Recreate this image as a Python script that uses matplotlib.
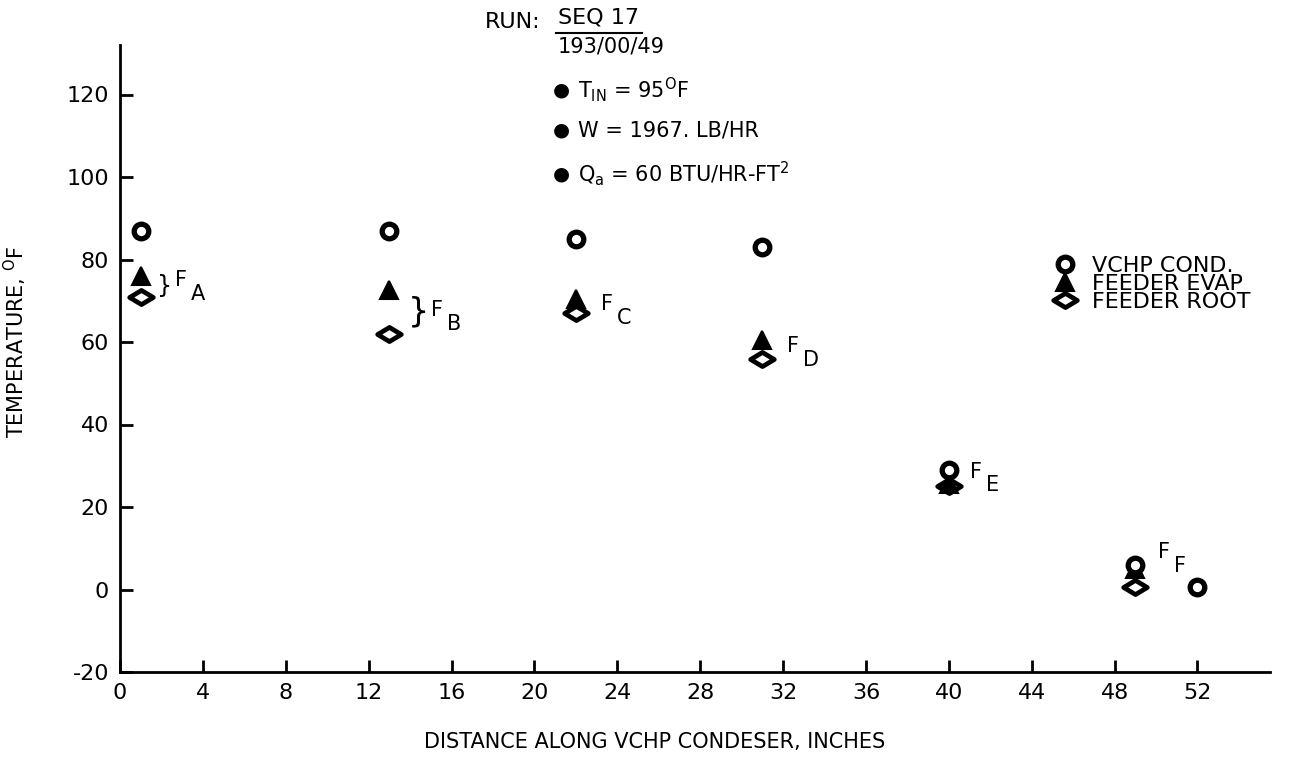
import matplotlib.pyplot as plt
from matplotlib.path import Path

plt.rcParams['font.family'] = ['DejaVu Sans']
plt.rcParams['axes.unicode_minus'] = False

# data (inches, deg F)
x_pos = [1, 13, 22, 31, 40, 49]
vchp_cond = [87, 87, 85, 83, 29, 6]
feeder_evap = [76, 72.5, 70.5, 60.5, 25.5, 5]
feeder_root = [71, 62, 67, 56, 25, 0.5]
extra_x = [52]
extra_cond = [0.5]
feeder_names = ['A', 'B', 'C', 'D', 'E', 'F']
x_ticks = list(range(0, 53, 4))
y_ticks = list(range(-20, 121, 20))

W, H = 1303, 769
fig = plt.figure(figsize=(W / 100, H / 100), dpi=100)
ax = fig.add_axes([120 / W, 1 - 672 / H, 1150 / W, 627 / H])

diamond = Path([(-1, 0), (0, 0.6), (1, 0), (0, -0.6), (-1, 0)],
               [Path.MOVETO, Path.LINETO, Path.LINETO, Path.LINETO, Path.CLOSEPOLY])

circ_kw = dict(ls='none', marker='o', ms=10.5, mfc='white', mec='black', mew=3.8)
tri_kw = dict(ls='none', marker='^', ms=13, mfc='black', mec='black', mew=1.5)
dia_kw = dict(ls='none', marker=diamond, ms=17, mfc='white', mec='black', mew=3.4)

ax.plot(x_pos, feeder_root, label='FEEDER ROOT', zorder=3, **dia_kw)
ax.plot(x_pos, feeder_evap, label='FEEDER EVAP', zorder=4, **tri_kw)
ax.plot(x_pos + extra_x, vchp_cond + extra_cond, label='VCHP COND.', zorder=5, **circ_kw)

ax.set_xlim(0, 55.5)
ax.set_ylim(-20, 132)
ax.set_xticks(x_ticks)
ax.set_yticks(y_ticks)
for s in ['top', 'right']:
    ax.spines[s].set_visible(False)
for s in ['left', 'bottom']:
    ax.spines[s].set_linewidth(2)
ax.tick_params(direction='in', length=9, width=2, labelsize=16, pad=8)

ax.set_xlabel('DISTANCE ALONG VCHP CONDESER, INCHES', fontsize=15)
ax.xaxis.set_label_coords(0.465, -0.095)
fig.text(15 / W, 1 - 342 / H, 'TEMPERATURE, $\\mathregular{^O}$F', fontsize=15,
         rotation=90, ha='center', va='center')

# legend
h, l = ax.get_legend_handles_labels()
ax.legend(h[::-1], l[::-1], frameon=False, loc='upper left', fontsize=16,
          bbox_to_anchor=(0.793, 0.695), labelspacing=-0.1, handletextpad=0.6,
          handlelength=1.2)

# feeder labels
lab_x = [2.66, 15.0, 23.2, 32.2, 41.0, 50.1]
lab_y = [75, 67.8, 69.3, 59.1, 28.6, 9.0]
for nm, lx, ly in zip(feeder_names, lab_x, lab_y):
    ax.text(lx, ly, 'F', fontsize=15, va='center')
    ax.annotate(nm, (lx, ly), xytext=(11.5, -10), textcoords='offset points',
                fontsize=15, va='center')

# braces
ax.text(1.8, 73.5, '}', fontsize=17, va='center')
ax.text(13.9, 67.3, '}', fontsize=24, va='center')

# run info
fig.text(485 / W, 1 - 22 / H, 'RUN:', fontsize=16, va='center')
fig.text(558 / W, 1 - 17 / H, 'SEQ 17', fontsize=16, va='center')
fig.add_artist(plt.Line2D([556 / W, 642 / W], [1 - 33 / H, 1 - 33 / H], color='black', lw=1.5))
fig.text(558 / W, 1 - 46 / H, '193/00/49', fontsize=15, va='center')
bullets = ['$\\mathregular{T_{IN}}$ = 95$\\mathregular{^O}$F',
           'W = 1967. LB/HR',
           '$\\mathregular{Q_a}$ = 60 BTU/HR-FT$\\mathregular{^2}$']
for txt, py in zip(bullets, [90, 130, 174]):
    fig.text(553 / W, 1 - py / H, '\u25cf', fontsize=14, va='center')
    fig.text(578 / W, 1 - py / H, txt, fontsize=15, va='center')

fig.savefig('out.png', dpi=100, facecolor='white')
